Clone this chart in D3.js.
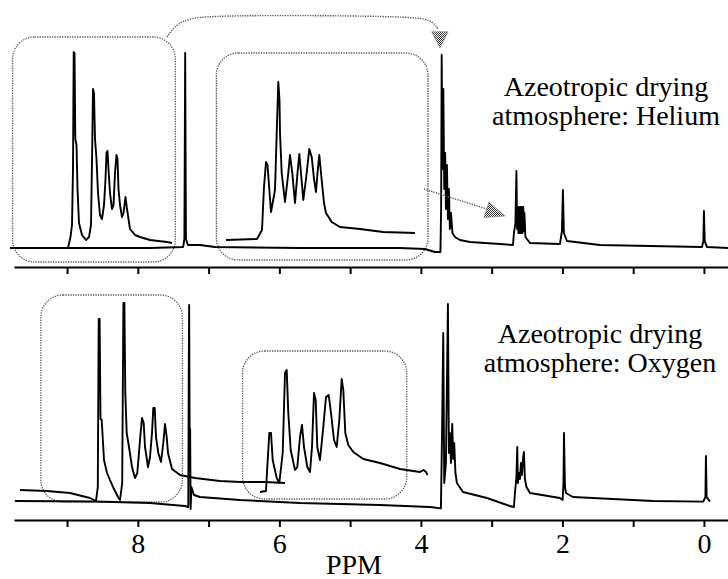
<!DOCTYPE html>
<html>
<head>
<meta charset="utf-8">
<script src="https://cdn.jsdelivr.net/npm/d3@7"></script>
<style>
  body { margin: 0; background: #fff; }
  svg { display: block; }
  text { font-family: "Liberation Serif", "Times New Roman", serif; fill: #000; }
</style>
</head>
<body>
<div id="chart"></div>
<script>
// ---- data: [ppm, intensity] ----
var ppm_ticks = [9, 8, 7, 6, 5, 4, 3, 2, 1, 0];
var ppm_labels = [8, 6, 4, 2, 0];

var helium_main = [
  [9.78, 0.5], [7.83, 0.5], [7.36, 1], [7.342, 5], [7.331, 98], [7.32, 5], [7.292, 2], [7.123, 2], [6.911, 1],
  [5.709, 0.5], [4.296, 0.5], [3.943, 0], [3.802, -1.5], [3.724, -1.5], [3.714, 20], [3.706, 97], [3.695, 40],
  [3.683, 80], [3.670, 30], [3.657, 48], [3.646, 20], [3.632, 42], [3.618, 15], [3.604, 30], [3.590, 10],
  [3.575, 18], [3.554, 8], [3.519, 6], [3.448, 4.5], [3.307, 3.5], [2.883, 2.5], [2.699, 2], [2.685, 8],
  [2.664, 13], [2.650, 39], [2.640, 10], [2.632, 21], [2.622, 8], [2.612, 21], [2.602, 8], [2.593, 21],
  [2.583, 8], [2.573, 21], [2.563, 8], [2.553, 21], [2.543, 9], [2.537, 18], [2.523, 6], [2.459, 3],
  [2.035, 2.5], [2.007, 9], [1.993, 29.5], [1.979, 8], [1.936, 4], [1.470, 2], [0.763, 1.5], [0.028, 1],
  [0.008, 4], [0.000, 19], [-0.011, 4], [-0.042, 1], [-0.339, 0.5]
];

var helium_aromatic = [
  [8.65, 0.5], [8.15, 0.5], [8.07, 0.5], [8.045, 6], [8.03, 12], [8.02, 40], [8.013, 98.5], [8.005, 98],
  [7.997, 55], [7.985, 52], [7.975, 30], [7.96, 13], [7.93, 7], [7.89, 4.5], [7.86, 6], [7.84, 12],
  [7.828, 50], [7.82, 80], [7.81, 78], [7.80, 55], [7.785, 45], [7.77, 28], [7.75, 17], [7.73, 15],
  [7.71, 22], [7.695, 35], [7.685, 48], [7.675, 49], [7.665, 40], [7.65, 28], [7.63, 20], [7.615, 22],
  [7.60, 38], [7.585, 47], [7.575, 45], [7.565, 30], [7.55, 22], [7.53, 16], [7.515, 18], [7.495, 26],
  [7.48, 20], [7.45, 10], [7.40, 7], [7.35, 6], [7.25, 4.5], [7.08, 3.5], [7.03, 3]
];

var helium_vinyl = [
  [6.44, 4.5], [6.13, 5], [6.08, 9.5], [6.06, 31], [6.04, 43.5], [6.025, 42], [5.99, 18.5], [5.95, 29.5],
  [5.933, 58], [5.917, 83.5], [5.905, 74.5], [5.90, 58], [5.883, 38], [5.85, 23.5], [5.817, 38], [5.80, 47],
  [5.777, 38], [5.75, 23], [5.725, 38], [5.707, 47.5], [5.69, 38], [5.667, 24.5], [5.64, 35], [5.607, 50],
  [5.583, 46], [5.56, 35], [5.54, 28.5], [5.525, 38], [5.507, 47], [5.483, 34.5], [5.46, 23], [5.44, 18],
  [5.383, 13.5], [5.30, 11], [5.10, 10], [4.87, 8.5], [4.55, 8]
];

var oxygen_main = [
  [9.737, 1], [8.607, 0.75], [7.830, 0], [7.335, -1.5], [7.287, -2], [7.281, 60], [7.275, 99], [7.268, 37],
  [7.261, 37], [7.254, -3], [7.243, 8], [7.207, 4], [7.123, 3], [6.557, 1.5], [5.709, 0], [4.579, -1],
  [3.872, -2], [3.717, -2.7], [3.703, 30], [3.684, 85], [3.670, 10], [3.646, 20], [3.632, 60], [3.618, 99.5],
  [3.604, 25], [3.590, 35], [3.575, 20], [3.557, 39.5], [3.543, 22], [3.529, 30], [3.512, 15], [3.491, 10],
  [3.406, 5.5], [3.067, 2.5], [2.742, -1.5], [2.685, -2], [2.671, 5], [2.650, 13], [2.638, 28], [2.629, 10],
  [2.614, 15], [2.600, 12], [2.586, 20], [2.572, 14], [2.558, 22], [2.544, 25.5], [2.530, 12], [2.508, 8],
  [2.459, 5], [2.035, 2.5], [1.997, 1.5], [1.985, 10], [1.978, 35], [1.964, 8], [1.950, 5], [1.851, 3],
  [0.721, 1], [0.010, 0.7], [-0.021, 3], [-0.028, 23.5], [-0.038, 3], [-0.085, 0.7]
];

var oxygen_aromatic = [
  [8.85, 6.5], [8.58, 6], [8.35, 5], [8.15, 2.5], [8.09, 1], [8.072, 8], [8.063, 92], [8.054, 92],
  [8.045, 42], [8.033, 41.5], [8.01, 21.5], [7.98, 15], [7.92, 8], [7.87, 3], [7.85, 1.5], [7.828, 10],
  [7.816, 100], [7.806, 100], [7.797, 55], [7.783, 35], [7.76, 28], [7.73, 18], [7.70, 12.5], [7.677, 15],
  [7.65, 31.5], [7.63, 42.5], [7.613, 40], [7.60, 28], [7.57, 18], [7.55, 23], [7.53, 35], [7.517, 47.5],
  [7.503, 47.5], [7.49, 33], [7.467, 25], [7.44, 20.5], [7.417, 30], [7.40, 39.5], [7.383, 33], [7.37, 25],
  [7.33, 17], [7.25, 14], [7.10, 12.5], [6.85, 11], [6.65, 10.5], [6.40, 10.5], [6.20, 10]
];

var oxygen_vinyl = [
  [6.45, 5.5], [6.39, 6], [6.377, 18], [6.357, 35], [6.34, 35], [6.323, 21.5], [6.283, 12.5], [6.257, 10],
  [6.223, 25], [6.20, 65], [6.183, 66.5], [6.167, 45], [6.143, 26.5], [6.10, 16.5], [6.077, 18], [6.05, 33],
  [6.03, 39], [6.01, 28], [5.977, 18], [5.95, 15.5], [5.93, 28], [5.91, 55], [5.893, 51.5], [5.877, 28],
  [5.85, 21.5], [5.817, 38], [5.79, 53], [5.763, 54], [5.74, 45], [5.71, 31.5], [5.683, 28], [5.657, 41.5],
  [5.633, 62], [5.617, 56.5], [5.597, 35], [5.567, 29], [5.517, 25.5], [5.417, 22], [5.25, 20], [5.05, 17],
  [4.917, 16], [4.85, 15.5], [4.815, 16.5], [4.79, 15.5], [4.775, 14]
];

// expanded-region outlines: [ppm left, ppm right, intensity top, intensity bottom]
var helium_boxes = [[9.77, 7.47, 106, -6.5], [6.89, 3.90, 98, -5.5]];
var oxygen_boxes = [[9.37, 7.37, 104, 0.5], [6.52, 4.20, 76, 2]];

// arrows (helium panel), in ppm / intensity
var arrow_curve = [[7.589, 106], [7.405, 115], [6.911, 117], [4.155, 116.5], [3.844, 114.5], [3.759, 110]];
var arrow_curve_head = [[3.848, 108.6], [3.614, 108.6], [3.731, 100.5]];
var arrow_line = [[3.957, 30], [3.067, 20]];
var arrow_line_head = [[3.109, 15.75], [3.038, 23.5], [2.812, 16.5]];

var panels = [
  {name: "Helium", main: helium_main, aromatic: helium_aromatic, vinyl: helium_vinyl, boxes: helium_boxes,
   base: 249, axis_y: 267, labels: false, text_x: 606, text_y: 96,
   aro_domain: [8.65, 7.0], aro_range: [10, 175], vin_domain: [6.5, 4.4], vin_range: [220, 430]},
  {name: "Oxygen", main: oxygen_main, aromatic: oxygen_aromatic, vinyl: oxygen_vinyl, boxes: oxygen_boxes,
   base: 503, axis_y: 520, labels: true, text_x: 600, text_y: 343,
   aro_domain: [8.9, 6.65], aro_range: [15, 240], vin_domain: [6.5, 4.7], vin_range: [255, 435]}
];

var width = 728, height = 579;

var svg = d3.select("#chart").append("svg")
  .attr("width", width)
  .attr("height", height);

var checker = svg.append("defs").append("pattern")
  .attr("id", "checker")
  .attr("width", 2).attr("height", 2)
  .attr("patternUnits", "userSpaceOnUse");
checker.append("rect").attr("width", 2).attr("height", 2).attr("fill", "#fff");
checker.append("rect").attr("x", 0).attr("y", 0).attr("width", 1).attr("height", 1).attr("fill", "#333");
checker.append("rect").attr("x", 1).attr("y", 1).attr("width", 1).attr("height", 1).attr("fill", "#333");

var x = d3.scaleLinear().domain([9.75, -0.34]).range([14, 728]);

panels.forEach(function(p) {
  var y = d3.scaleLinear().domain([0, 100]).range([p.base, p.base - 200]);
  var x_aro = d3.scaleLinear().domain(p.aro_domain).range(p.aro_range);
  var x_vin = d3.scaleLinear().domain(p.vin_domain).range(p.vin_range);

  var g = svg.append("g").attr("class", "panel_" + p.name);

  // dotted rounded outlines
  g.selectAll("rect.box")
    .data(p.boxes)
    .enter().append("rect")
    .attr("class", "box")
    .attr("x", function(d) { return x(d[0]); })
    .attr("y", function(d) { return y(d[2]); })
    .attr("width", function(d) { return x(d[1]) - x(d[0]); })
    .attr("height", function(d) { return y(d[3]) - y(d[2]); })
    .attr("rx", 22).attr("ry", 22)
    .attr("fill", "none")
    .attr("stroke", "#555")
    .attr("stroke-width", 1.3)
    .attr("stroke-dasharray", "1.3,1.2");

  var line_main = d3.line().x(function(d) { return x(d[0]); }).y(function(d) { return y(d[1]); });
  var line_aro = d3.line().x(function(d) { return x_aro(d[0]); }).y(function(d) { return y(d[1]); });
  var line_vin = d3.line().x(function(d) { return x_vin(d[0]); }).y(function(d) { return y(d[1]); });

  [[p.main, line_main], [p.aromatic, line_aro], [p.vinyl, line_vin]].forEach(function(s) {
    g.append("path")
      .attr("d", s[1](s[0]))
      .attr("fill", "none")
      .attr("stroke", "#000")
      .attr("stroke-width", 1.9)
      .attr("stroke-linejoin", "round");
  });

  // ppm axis
  var axis = d3.axisBottom(x)
    .tickValues(ppm_ticks)
    .tickSize(7)
    .tickSizeOuter(0)
    .tickPadding(6)
    .tickFormat(function(d) { return (p.labels && ppm_labels.indexOf(d) >= 0) ? d : ""; });

  var ga = g.append("g")
    .attr("transform", "translate(0," + p.axis_y + ")")
    .call(axis);
  ga.select(".domain").attr("stroke", "#000").attr("stroke-width", 2);
  ga.selectAll(".tick line").attr("stroke", "#000").attr("stroke-width", 2);
  ga.selectAll(".tick text")
    .attr("font-family", "Liberation Serif, Times New Roman, serif")
    .attr("font-size", 28)
    .attr("fill", "#000");

  var t = g.append("text")
    .attr("x", p.text_x)
    .attr("y", p.text_y)
    .attr("text-anchor", "middle")
    .attr("font-size", 28);
  t.append("tspan").attr("x", p.text_x).text("Azeotropic drying");
  t.append("tspan").attr("x", p.text_x).attr("dy", 29).text("atmosphere: " + p.name);

  if (p.name == "Helium") {
    var curve = d3.line().curve(d3.curveBasis)
      .x(function(d) { return x(d[0]); }).y(function(d) { return y(d[1]); });
    var straight = d3.line()
      .x(function(d) { return x(d[0]); }).y(function(d) { return y(d[1]); });
    g.append("path")
      .attr("d", curve(arrow_curve))
      .attr("fill", "none").attr("stroke", "#555")
      .attr("stroke-width", 1.4).attr("stroke-dasharray", "1.3,1.2");
    g.append("path")
      .attr("d", straight(arrow_line))
      .attr("fill", "none").attr("stroke", "#555")
      .attr("stroke-width", 1.4).attr("stroke-dasharray", "1.3,1.2");
    [arrow_curve_head, arrow_line_head].forEach(function(h) {
      g.append("path")
        .attr("d", straight(h) + "Z")
        .attr("fill", "url(#checker)")
        .attr("stroke", "#777").attr("stroke-width", 0.6);
    });
  }
});

svg.append("text")
  .attr("x", 354)
  .attr("y", 574)
  .attr("text-anchor", "middle")
  .attr("font-size", 28)
  .text("PPM");
</script>
</body>
</html>
